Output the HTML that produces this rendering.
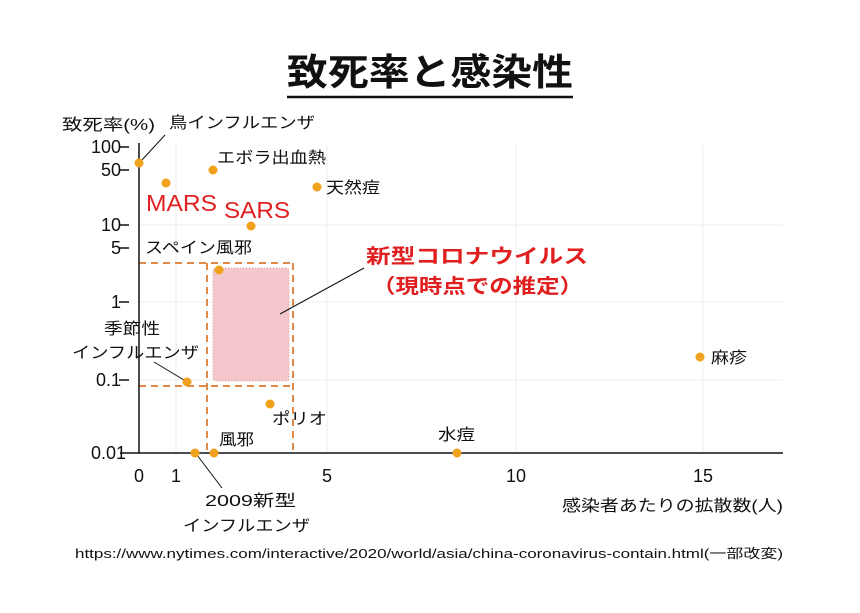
<!DOCTYPE html>
<html><head><meta charset="utf-8"><style>
body{margin:0;background:#fff;}
svg text{font-family:"Liberation Sans","Noto Sans CJK JP",sans-serif;fill:#111;}
</style></head><body>
<svg width="860" height="608" viewBox="0 0 860 608" xmlns="http://www.w3.org/2000/svg">
<text x="287" y="85" font-size="37" font-weight="bold" textLength="286" lengthAdjust="spacingAndGlyphs">致死率と感染性</text>
<line x1="287" y1="97" x2="573" y2="97" stroke="#111" stroke-width="2.5"/>
<g stroke="#eee" stroke-width="1">
<line x1="176" y1="145" x2="176" y2="453"/><line x1="327" y1="145" x2="327" y2="453"/>
<line x1="516" y1="145" x2="516" y2="453"/><line x1="703" y1="145" x2="703" y2="453"/>
<line x1="139" y1="225" x2="783" y2="225"/><line x1="139" y1="302" x2="783" y2="302"/><line x1="139" y1="380" x2="783" y2="380"/>
</g>
<rect x="213" y="268" width="76" height="113" rx="3" fill="#f4c7cc" stroke="#d99" stroke-dasharray="1,2"/>
<g stroke="#e08a4a" stroke-width="2" stroke-dasharray="7,5" fill="none">
<line x1="139" y1="263" x2="293" y2="263"/><line x1="139" y1="386" x2="293" y2="386"/>
<line x1="207" y1="263" x2="207" y2="453"/><line x1="293" y1="263" x2="293" y2="453"/>
</g>
<line x1="139" y1="143" x2="139" y2="453" stroke="#111" stroke-width="1.5"/>
<line x1="120" y1="453" x2="783" y2="453" stroke="#111" stroke-width="1.5"/>
<g stroke="#111" stroke-width="1.5">
<line x1="119" y1="147" x2="129" y2="147"/><line x1="119" y1="170" x2="129" y2="170"/>
<line x1="119" y1="225" x2="129" y2="225"/><line x1="119" y1="248" x2="129" y2="248"/>
<line x1="119" y1="302" x2="129" y2="302"/><line x1="119" y1="380" x2="129" y2="380"/>
</g>
<g font-size="18" text-anchor="end">
<text x="121" y="153">100</text><text x="121" y="176">50</text>
<text x="121" y="231">10</text><text x="121" y="254">5</text>
<text x="121" y="308">1</text><text x="121" y="386">0.1</text><text x="126" y="459">0.01</text>
</g>
<g font-size="18" text-anchor="middle">
<text x="139" y="482">0</text><text x="176" y="482">1</text><text x="327" y="482">5</text>
<text x="516" y="482">10</text><text x="703" y="482">15</text>
</g>
<g font-size="16" lengthAdjust="spacingAndGlyphs">
<text x="62" y="130" textLength="93" lengthAdjust="spacingAndGlyphs">致死率(%)</text>
<text x="562" y="511" textLength="221" lengthAdjust="spacingAndGlyphs">感染者あたりの拡散数(人)</text>
<text x="169" y="128" textLength="146" lengthAdjust="spacingAndGlyphs">鳥インフルエンザ</text>
<text x="217" y="163" textLength="109" lengthAdjust="spacingAndGlyphs">エボラ出血熱</text>
<text x="326" y="193" textLength="54" lengthAdjust="spacingAndGlyphs">天然痘</text>
<text x="145" y="253" textLength="107" lengthAdjust="spacingAndGlyphs">スペイン風邪</text>
<text x="104" y="334" textLength="56" lengthAdjust="spacingAndGlyphs">季節性</text>
<text x="72" y="358" textLength="127" lengthAdjust="spacingAndGlyphs">インフルエンザ</text>
<text x="272" y="424" textLength="55" lengthAdjust="spacingAndGlyphs">ポリオ</text>
<text x="219" y="445" textLength="35" lengthAdjust="spacingAndGlyphs">風邪</text>
<text x="438" y="440" textLength="37" lengthAdjust="spacingAndGlyphs">水痘</text>
<text x="711" y="363" textLength="36" lengthAdjust="spacingAndGlyphs">麻疹</text>
<text x="205" y="506" textLength="91" lengthAdjust="spacingAndGlyphs">2009新型</text>
<text x="183" y="531" textLength="127" lengthAdjust="spacingAndGlyphs">インフルエンザ</text>
</g>
<g stroke="#111" stroke-width="1">
<line x1="141" y1="161" x2="165" y2="135"/>
<line x1="280" y1="314" x2="364" y2="268"/>
<line x1="154" y1="362" x2="184" y2="380"/>
<line x1="197" y1="455" x2="222" y2="488"/>
</g>
<g fill="#f0a21c">
<circle cx="139" cy="163" r="4.5"/><circle cx="166" cy="183" r="4.5"/><circle cx="213" cy="170" r="4.5"/>
<circle cx="317" cy="187" r="4.5"/><circle cx="251" cy="226" r="4.5"/><circle cx="219" cy="270" r="4.5"/>
<circle cx="187" cy="382" r="4.5"/><circle cx="270" cy="404" r="4.5"/><circle cx="195" cy="453" r="4.5"/>
<circle cx="214" cy="453" r="4.5"/><circle cx="457" cy="453" r="4.5"/><circle cx="700" cy="357" r="4.5"/>
</g>
<text x="146" y="211" font-size="23" textLength="71" lengthAdjust="spacingAndGlyphs" style="fill:#e02020">MARS</text>
<text x="224" y="218" font-size="23" textLength="66" lengthAdjust="spacingAndGlyphs" style="fill:#e02020">SARS</text>
<text x="366" y="263" font-weight="bold" font-size="20" textLength="222" lengthAdjust="spacingAndGlyphs" style="fill:#e02020">新型コロナウイルス</text>
<text x="372" y="293" font-weight="bold" font-size="20" textLength="211" lengthAdjust="spacingAndGlyphs" style="fill:#e02020">（現時点での推定）</text>
<text x="75" y="558" font-size="13" textLength="708" lengthAdjust="spacingAndGlyphs">https://www.nytimes.com/interactive/2020/world/asia/china-coronavirus-contain.html(一部改変)</text>
</svg>
</body></html>
